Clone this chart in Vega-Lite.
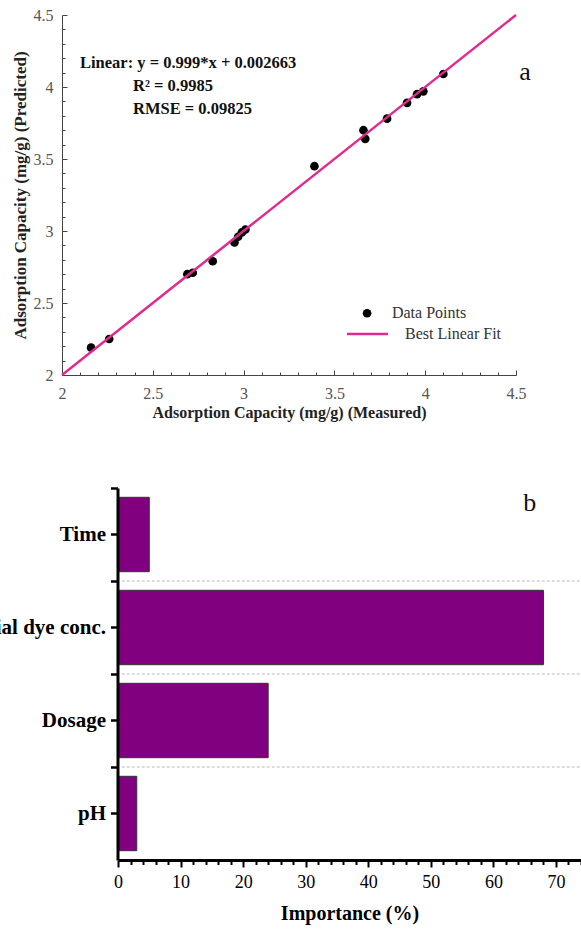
{
  "$schema": "https://vega.github.io/schema/vega-lite/v6.json",
  "width": 581,
  "height": 931,
  "autosize": {"type": "none"},
  "padding": 0,
  "background": "white",
  "config": {"view": {"stroke": null}, "axis": {"grid": false}},
  "datasets": {
    "points": [
      {"measured": 2.16, "predicted": 2.19},
      {"measured": 2.26, "predicted": 2.25},
      {"measured": 2.69, "predicted": 2.70},
      {"measured": 2.72, "predicted": 2.71},
      {"measured": 2.83, "predicted": 2.79},
      {"measured": 2.95, "predicted": 2.92},
      {"measured": 2.97, "predicted": 2.96},
      {"measured": 2.99, "predicted": 2.99},
      {"measured": 3.01, "predicted": 3.01},
      {"measured": 3.39, "predicted": 3.45},
      {"measured": 3.66, "predicted": 3.70},
      {"measured": 3.67, "predicted": 3.64},
      {"measured": 3.79, "predicted": 3.78},
      {"measured": 3.90, "predicted": 3.89},
      {"measured": 3.955, "predicted": 3.95},
      {"measured": 3.99, "predicted": 3.97},
      {"measured": 4.10, "predicted": 4.09}
    ],
    "fit": [
      {"measured": 2.0, "predicted": 2.0},
      {"measured": 4.5, "predicted": 4.5}
    ],
    "importance": [
      {"factor": "Time", "importance": 5},
      {"factor": "Initial dye conc.", "importance": 68},
      {"factor": "Dosage", "importance": 24},
      {"factor": "pH", "importance": 3}
    ],
    "one": [{}]
  },
  "layer": [
    {
      "layer": [
        {
          "data": {"name": "points"},
          "mark": {"type": "circle", "size": 75, "color": "#000000", "opacity": 1},
          "encoding": {
            "x": {
              "field": "measured", "type": "quantitative",
              "scale": {"domain": [2, 4.5], "range": [62, 516], "nice": false, "zero": false},
              "axis": {
                "orient": "bottom", "offset": -556, "grid": false,
                "title": "Adsorption Capacity (mg/g) (Measured)",
                "titleFont": "Liberation Serif", "titleFontWeight": "bold", "titleFontSize": 16, "titleColor": "#222222", "titlePadding": 1,
                "tickCount": 100,
                "values": [2, 2.1, 2.2, 2.3, 2.4, 2.5, 2.6, 2.7, 2.8, 2.9, 3, 3.1, 3.2, 3.3, 3.4, 3.5, 3.6, 3.7, 3.8, 3.9, 4, 4.1, 4.2, 4.3, 4.4, 4.5],
                "labelExpr": "abs(datum.value*2 - round(datum.value*2)) < 0.01 ? format(datum.value, '~g') : ''",
                "tickSize": {"condition": {"test": "abs(datum.value*2 - round(datum.value*2)) < 0.01", "value": -5}, "value": -3},
                "tickColor": "#444444", "tickWidth": 1, "domainColor": "#444444", "domainWidth": 1,
                "labelFont": "Liberation Serif", "labelFontSize": 16, "labelColor": "#555555", "labelPadding": 15,
                "labelFlush": false, "labelOverlap": false
              }
            },
            "y": {
              "field": "predicted", "type": "quantitative",
              "scale": {"domain": [2, 4.5], "range": [375, 15], "nice": false, "zero": false},
              "axis": {
                "orient": "left", "offset": -62, "grid": false,
                "title": "Adsorption Capacity (mg/g) (Predicted)",
                "titleFont": "Liberation Serif", "titleFontWeight": "bold", "titleFontSize": 17, "titleColor": "#222222", "titlePadding": 4,
                "tickCount": 100,
                "values": [2, 2.1, 2.2, 2.3, 2.4, 2.5, 2.6, 2.7, 2.8, 2.9, 3, 3.1, 3.2, 3.3, 3.4, 3.5, 3.6, 3.7, 3.8, 3.9, 4, 4.1, 4.2, 4.3, 4.4, 4.5],
                "labelExpr": "abs(datum.value*2 - round(datum.value*2)) < 0.01 ? format(datum.value, '~g') : ''",
                "tickSize": {"condition": {"test": "abs(datum.value*2 - round(datum.value*2)) < 0.01", "value": -5}, "value": -3},
                "tickColor": "#444444", "tickWidth": 1, "domainColor": "#444444", "domainWidth": 1,
                "labelFont": "Liberation Serif", "labelFontSize": 16, "labelColor": "#555555", "labelPadding": 14,
                "labelFlush": false, "labelOverlap": false
              }
            }
          }
        },
        {
          "data": {"name": "fit"},
          "mark": {"type": "line", "color": "#df2a8e", "strokeWidth": 2.5},
          "encoding": {
            "x": {"field": "measured", "type": "quantitative"},
            "y": {"field": "predicted", "type": "quantitative"}
          }
        },
        {
          "data": {"name": "one"},
          "mark": {"type": "text", "text": "Linear:  y = 0.999*x + 0.002663", "align": "left", "baseline": "middle", "font": "Liberation Serif", "fontWeight": "bold", "fontSize": 16.5, "color": "#111111"},
          "encoding": {
            "x": {"datum": 2.099, "type": "quantitative"},
            "y": {"datum": 4.168, "type": "quantitative"}
          }
        },
        {
          "data": {"name": "one"},
          "mark": {"type": "text", "text": "R² = 0.9985", "align": "left", "baseline": "middle", "font": "Liberation Serif", "fontWeight": "bold", "fontSize": 16.5, "color": "#111111"},
          "encoding": {
            "x": {"datum": 2.391, "type": "quantitative"},
            "y": {"datum": 4.008, "type": "quantitative"}
          }
        },
        {
          "data": {"name": "one"},
          "mark": {"type": "text", "text": "RMSE = 0.09825", "align": "left", "baseline": "middle", "font": "Liberation Serif", "fontWeight": "bold", "fontSize": 16.5, "color": "#111111"},
          "encoding": {
            "x": {"datum": 2.391, "type": "quantitative"},
            "y": {"datum": 3.849, "type": "quantitative"}
          }
        },
        {
          "data": {"name": "one"},
          "mark": {"type": "text", "text": "a", "align": "center", "baseline": "alphabetic", "font": "Liberation Serif", "fontSize": 26, "color": "#111111"},
          "encoding": {
            "x": {"datum": 4.55, "type": "quantitative"},
            "y": {"datum": 4.05, "type": "quantitative"}
          }
        },
        {
          "data": {"name": "one"},
          "mark": {"type": "circle", "size": 75, "color": "#000000", "opacity": 1},
          "encoding": {
            "x": {"datum": 3.68, "type": "quantitative"},
            "y": {"datum": 2.429, "type": "quantitative"}
          }
        },
        {
          "data": {"name": "one"},
          "mark": {"type": "text", "text": "Data Points", "align": "left", "baseline": "middle", "font": "Liberation Serif", "fontSize": 16, "color": "#333333"},
          "encoding": {
            "x": {"datum": 3.817, "type": "quantitative"},
            "y": {"datum": 2.429, "type": "quantitative"}
          }
        },
        {
          "data": {"name": "one"},
          "mark": {"type": "rule", "color": "#df2a8e", "strokeWidth": 2.5},
          "encoding": {
            "x": {"datum": 3.569, "type": "quantitative"},
            "x2": {"datum": 3.795},
            "y": {"datum": 2.284, "type": "quantitative"}
          }
        },
        {
          "data": {"name": "one"},
          "mark": {"type": "text", "text": "Best Linear Fit", "align": "left", "baseline": "middle", "font": "Liberation Serif", "fontSize": 16, "color": "#333333"},
          "encoding": {
            "x": {"datum": 3.889, "type": "quantitative"},
            "y": {"datum": 2.284, "type": "quantitative"}
          }
        }
      ]
    },
    {
      "layer": [
        {
          "data": {"name": "importance"},
          "transform": [{"filter": "datum.factor !== 'pH'"}],
          "mark": {"type": "rule", "color": "#bbbbbb", "strokeDash": [3, 2], "strokeWidth": 1},
          "encoding": {
            "y": {
              "field": "factor", "type": "nominal", "bandPosition": 1.125,
              "sort": ["Time", "Initial dye conc.", "Dosage", "pH"],
              "scale": {"type": "band", "domain": ["Time", "Initial dye conc.", "Dosage", "pH"], "range": [488, 860], "paddingInner": 0.2, "paddingOuter": 0.1},
              "axis": {
                "orient": "left", "offset": -117.5, "title": null, "domain": false, "labels": false,
                "ticks": true, "tickSize": 7, "tickWidth": 2.5, "tickColor": "#000000", "tickOffset": -46.5,
                "grid": false, "zindex": 2
              }
            },
            "x": {"datum": 0.6, "type": "quantitative"},
            "x2": {"datum": 74}
          }
        },
        {
          "data": {"name": "importance"},
          "mark": {"type": "bar", "color": "#800080", "stroke": "#333333", "strokeWidth": 1},
          "encoding": {
            "y": {
              "field": "factor", "type": "nominal",
              "sort": ["Time", "Initial dye conc.", "Dosage", "pH"],
              "scale": {"type": "band", "domain": ["Time", "Initial dye conc.", "Dosage", "pH"], "range": [488, 860], "paddingInner": 0.2, "paddingOuter": 0.1},
              "axis": {
                "orient": "left", "offset": -117.5, "title": null,
                "domainColor": "#000000", "domainWidth": 3,
                "tickColor": "#000000", "tickWidth": 2.5, "tickSize": 7,
                "labelFont": "Liberation Serif", "labelFontWeight": "bold", "labelFontSize": 21, "labelColor": "#000000", "labelPadding": 5, "labelLimit": 300,
                "grid": false, "zindex": 2
              }
            },
            "x": {
              "field": "importance", "type": "quantitative",
              "scale": {"domain": [0, 74], "range": [118, 581], "nice": false, "zero": true},
              "axis": {
                "orient": "bottom", "offset": -71, "grid": false,
                "title": "Importance (%)",
                "titleFont": "Liberation Serif", "titleFontWeight": "bold", "titleFontSize": 20, "titleColor": "#000000", "titlePadding": 12,
                "tickCount": 100,
                "values": [0, 2, 4, 6, 8, 10, 12, 14, 16, 18, 20, 22, 24, 26, 28, 30, 32, 34, 36, 38, 40, 42, 44, 46, 48, 50, 52, 54, 56, 58, 60, 62, 64, 66, 68, 70, 72, 74],
                "labelExpr": "datum.value % 10 === 0 ? format(datum.value, 'd') : ''",
                "tickSize": {"condition": {"test": "datum.value % 10 === 0", "value": 7}, "value": 4.5},
                "tickWidth": 2, "tickColor": "#000000", "domainColor": "#000000", "domainWidth": 3,
                "labelFont": "Liberation Serif", "labelFontSize": 18, "labelColor": "#000000", "labelPadding": 6,
                "labelFlush": false, "labelOverlap": false, "zindex": 2
              }
            }
          }
        },
        {
          "data": {"name": "one"},
          "mark": {"type": "text", "text": "b", "align": "center", "baseline": "alphabetic", "font": "Liberation Serif", "fontSize": 26, "color": "#111111", "dy": -23.5},
          "encoding": {
            "x": {"datum": 65.8, "type": "quantitative"},
            "y": {"datum": "Time", "type": "nominal", "bandPosition": 0.5, "axis": null}
          }
        }
      ],
      "resolve": {"axis": {"y": "independent"}}
    }
  ],
  "resolve": {
    "scale": {"x": "independent", "y": "independent"},
    "axis": {"x": "independent", "y": "independent"}
  }
}
